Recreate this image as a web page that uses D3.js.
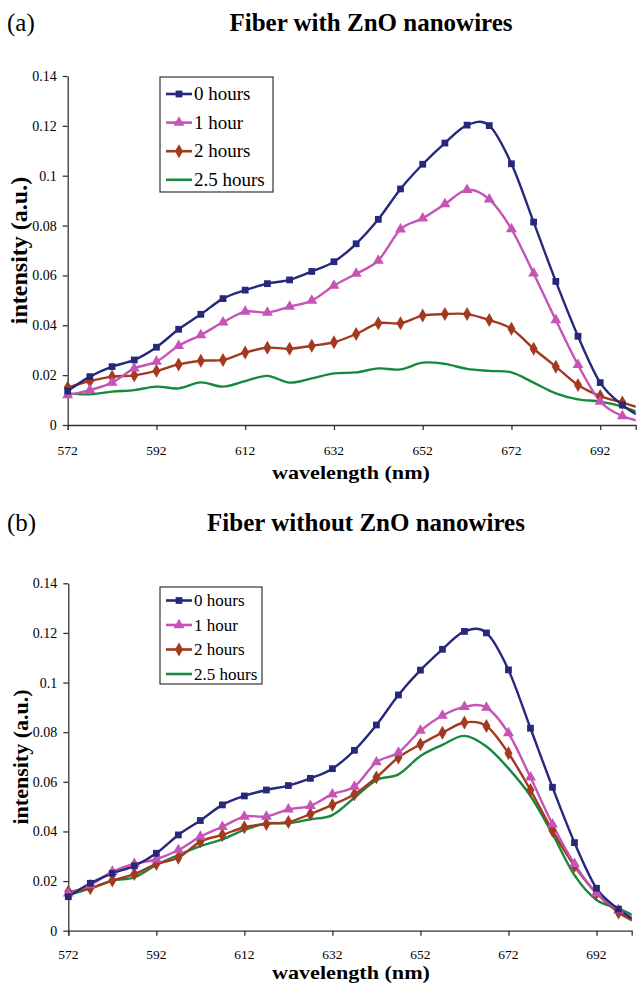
<!DOCTYPE html>
<html>
<head>
<meta charset="utf-8">
<script src="https://cdn.jsdelivr.net/npm/d3@7"></script>
<style>
  body { margin: 0; background: #fff; }
  text { font-family: "Liberation Serif", "Times New Roman", serif; fill: #000; }
</style>
</head>
<body>
<svg id="chart" width="639" height="983"></svg>
<script>
// wavelength (nm), one sample every 5 nm; 702 runs past the axis end and is clipped
const wavelength = [572, 577, 582, 587, 592, 597, 602, 607, 612, 617, 622, 627, 632,
  637, 642, 647, 652, 657, 662, 667, 672, 677, 682, 687, 692, 697, 702];

const seriesNames = ['0 hours', '1 hour', '2 hours', '2.5 hours'];

// (a) fiber with ZnO nanowires
const withZnO0h = [0.0136, 0.0194, 0.0234, 0.0261, 0.0312, 0.0384, 0.0444, 0.0507, 0.0541, 0.0567, 0.0582, 0.0616, 0.0655,
  0.0727, 0.0825, 0.0947, 0.1046, 0.1131, 0.1203, 0.1201, 0.1048, 0.0814, 0.0576, 0.0356, 0.0170, 0.0080, 0.0025];
const withZnO1h = [0.0120, 0.0140, 0.0170, 0.0227, 0.0254, 0.0318, 0.0361, 0.0412, 0.0455, 0.0451, 0.0475, 0.0499, 0.0559,
  0.0607, 0.0660, 0.0785, 0.0829, 0.0886, 0.0943, 0.0905, 0.0786, 0.0608, 0.0421, 0.0241, 0.0094, 0.0036, 0.0012];
const withZnO2h = [0.0150, 0.0176, 0.0194, 0.0199, 0.0217, 0.0243, 0.0258, 0.0261, 0.0291, 0.0310, 0.0306, 0.0318, 0.0332,
  0.0365, 0.0408, 0.0408, 0.0439, 0.0445, 0.0445, 0.0421, 0.0386, 0.0306, 0.0234, 0.0160, 0.0116, 0.0090, 0.0063];
const withZnO25h = [0.0127, 0.0123, 0.0134, 0.0140, 0.0154, 0.0147, 0.0171, 0.0154, 0.0176, 0.0197, 0.0170, 0.0187, 0.0207,
  0.0211, 0.0227, 0.0223, 0.0250, 0.0245, 0.0225, 0.0217, 0.0211, 0.0170, 0.0127, 0.0103, 0.0094, 0.0074, 0.0040];

// (b) fiber without ZnO nanowires
const withoutZnO0h = [0.0137, 0.0191, 0.0231, 0.0261, 0.0312, 0.0386, 0.0444, 0.0507, 0.0543, 0.0567, 0.0585, 0.0614, 0.0653,
  0.0727, 0.0829, 0.0950, 0.1050, 0.1134, 0.1206, 0.1200, 0.1051, 0.0816, 0.0578, 0.0355, 0.0171, 0.0087, 0.0028];
const withoutZnO1h = [0.0151, 0.0184, 0.0238, 0.0269, 0.0288, 0.0325, 0.0379, 0.0419, 0.0460, 0.0460, 0.0489, 0.0503, 0.0550,
  0.0581, 0.0679, 0.0718, 0.0806, 0.0867, 0.0902, 0.0899, 0.0796, 0.0618, 0.0429, 0.0269, 0.0151, 0.0083, 0.0030];
const withoutZnO2h = [0.0157, 0.0171, 0.0202, 0.0228, 0.0269, 0.0294, 0.0359, 0.0386, 0.0417, 0.0430, 0.0438, 0.0470, 0.0507,
  0.0550, 0.0618, 0.0698, 0.0751, 0.0798, 0.0839, 0.0825, 0.0715, 0.0567, 0.0403, 0.0261, 0.0151, 0.0073, 0.0025];
const withoutZnO25h = [0.0144, 0.0171, 0.0202, 0.0215, 0.0265, 0.0305, 0.0341, 0.0368, 0.0406, 0.0433, 0.0433, 0.0449, 0.0466,
  0.0536, 0.0607, 0.0630, 0.0704, 0.0749, 0.0785, 0.0742, 0.0654, 0.0543, 0.0390, 0.0224, 0.0124, 0.0090, 0.0046];

const xTicks = [572, 592, 612, 632, 652, 672, 692];
const yTicks = [0, 0.02, 0.04, 0.06, 0.08, 0.1, 0.12, 0.14];
const yTickLabels = ['0', '0.02', '0.04', '0.06', '0.08', '0.1', '0.12', '0.14'];

const colors = ['#26287c', '#c653b6', '#a3391f', '#16893f'];
const markers = [d3.symbolSquare, d3.symbolTriangle, d3.symbolDiamond, null];
const markerSize = [46, 52, 56, 0];

const panels = [
  { tag: '(a)', title: 'Fiber with ZnO nanowires', titleX: 371, titleY: 31,
    series: [withZnO0h, withZnO1h, withZnO2h, withZnO25h],
    left: 67.7, right: 635.7, top: 76, bottom: 425,
    tickLabelY: 455, xTitleY: 479, yTitleX: 27, yTitleSize: 24,
    legend: { x: 160, y: 77, w: 113, h: 115, fs: 19, step: 28.6, first: 17 } },
  { tag: '(b)', title: 'Fiber without ZnO nanowires', titleX: 366, titleY: 531,
    series: [withoutZnO0h, withoutZnO1h, withoutZnO2h, withoutZnO25h],
    left: 68.3, right: 631.7, top: 583.3, bottom: 930.7,
    tickLabelY: 959, xTitleY: 979, yTitleX: 28, yTitleSize: 22,
    legend: { x: 160, y: 587, w: 102, h: 97, fs: 17, step: 24.5, first: 13.5 } }
];

const svg = d3.select('#chart');

panels.forEach((p, pi) => {
  const x = d3.scaleLinear().domain([572, 700]).range([p.left, p.right]);
  const y = d3.scaleLinear().domain([0, 0.14]).range([p.bottom, p.top]);

  svg.append('text')
    .attr('x', 7).attr('y', p.titleY)
    .attr('font-size', 25)
    .text(p.tag);

  svg.append('text')
    .attr('x', p.titleX).attr('y', p.titleY)
    .attr('text-anchor', 'middle')
    .attr('font-size', 25)
    .attr('font-weight', 'bold')
    .text(p.title);

  // axes
  const xAxis = svg.append('g')
    .attr('transform', `translate(0, ${p.bottom})`)
    .call(d3.axisBottom(x).tickValues(xTicks).tickSize(5).tickFormat(''));
  xAxis.select('.domain').attr('stroke', '#333').attr('stroke-width', 1.3);
  xAxis.selectAll('.tick line').attr('stroke', '#333').attr('stroke-width', 1.3);

  svg.append('g').selectAll('text')
    .data(xTicks)
    .enter().append('text')
    .attr('x', d => x(d))
    .attr('y', p.tickLabelY)
    .attr('text-anchor', 'middle')
    .attr('font-size', 13.5)
    .text(d => d);

  const yAxis = svg.append('g')
    .attr('transform', `translate(${p.left}, 0)`)
    .call(d3.axisLeft(y).tickValues(yTicks).tickSize(5).tickSizeOuter(0)
      .tickFormat((d, i) => yTickLabels[i]));
  yAxis.select('.domain').attr('stroke', '#333').attr('stroke-width', 1.3);
  yAxis.selectAll('.tick line').attr('stroke', '#333').attr('stroke-width', 1.3);
  yAxis.selectAll('.tick text')
    .attr('font-size', 14)
    .attr('x', -11)
    .attr('font-family', '"Liberation Serif", serif')
    .attr('fill', '#000');

  svg.append('text')
    .attr('transform', `translate(${p.yTitleX}, ${(p.top + p.bottom) / 2}) rotate(-90)`)
    .attr('text-anchor', 'middle')
    .attr('font-size', p.yTitleSize)
    .attr('font-weight', 'bold')
    .text('intensity (a.u.)');

  // reference glyphs are a little wider than tall: stretch to the measured width
  svg.append('text')
    .attr('x', 351 - 79).attr('y', p.xTitleY)
    .attr('font-size', 19.5)
    .attr('font-weight', 'bold')
    .attr('textLength', 158)
    .attr('lengthAdjust', 'spacingAndGlyphs')
    .text('wavelength (nm)');

  // lines, clipped to the plot area
  svg.append('clipPath').attr('id', 'clip' + pi)
    .append('rect')
    .attr('x', p.left).attr('y', p.top - 10)
    .attr('width', p.right - p.left).attr('height', p.bottom - p.top + 10);

  const line = d3.line()
    .x((d, i) => x(wavelength[i]))
    .y(d => y(d))
    .curve(d3.curveCatmullRom.alpha(0));

  const plot = svg.append('g').attr('clip-path', `url(#clip${pi})`);

  // draw green first so the marked series sit on top
  [3, 2, 1, 0].forEach(si => {
    plot.append('path')
      .datum(p.series[si])
      .attr('fill', 'none')
      .attr('stroke', colors[si])
      .attr('stroke-width', 2.4)
      .attr('d', line);
  });

  [3, 2, 1, 0].forEach(si => {
    if (!markers[si]) return;
    const pts = p.series[si].map((v, i) => ({ w: wavelength[i], v })).filter(d => d.w <= 700);
    svg.append('g').selectAll('path')
      .data(pts)
      .enter().append('path')
      .attr('transform', d => `translate(${x(d.w)}, ${y(d.v)})`)
      .attr('d', d3.symbol().type(markers[si]).size(markerSize[si]))
      .attr('fill', colors[si]);
  });

  // legend
  const L = p.legend;
  const lg = svg.append('g').attr('transform', `translate(${L.x}, ${L.y})`);
  lg.append('rect')
    .attr('width', L.w).attr('height', L.h)
    .attr('fill', '#fff').attr('stroke', '#333').attr('stroke-width', 1.2);

  const items = lg.selectAll('.item')
    .data(seriesNames)
    .enter().append('g')
    .attr('class', 'item')
    .attr('transform', (d, i) => `translate(0, ${L.first + i * L.step})`);

  items.append('line')
    .attr('x1', 6).attr('x2', 32)
    .attr('stroke', (d, i) => colors[i])
    .attr('stroke-width', 2.6);

  items.filter((d, i) => markers[i] !== null)
    .append('path')
    .attr('transform', 'translate(19, 0)')
    .attr('d', (d, i) => d3.symbol().type(markers[i]).size(markerSize[i])())
    .attr('fill', (d, i) => colors[i]);

  items.append('text')
    .attr('x', 34)
    .attr('dy', '0.33em')
    .attr('font-size', L.fs)
    .text(d => d);
});
</script>
</body>
</html>
